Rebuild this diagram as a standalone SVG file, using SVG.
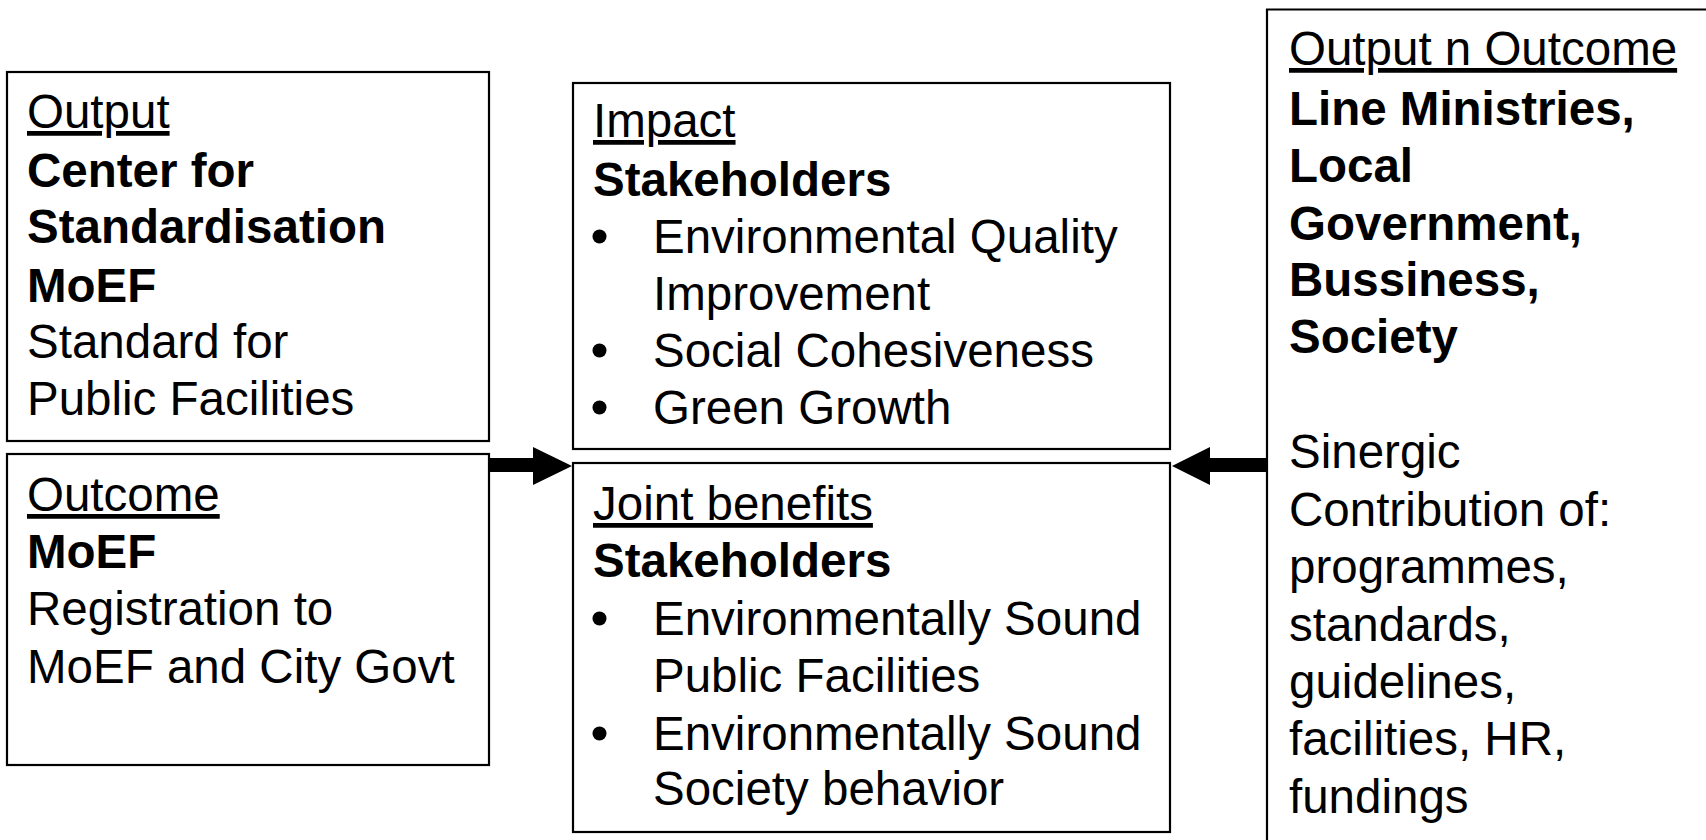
<svg xmlns="http://www.w3.org/2000/svg" width="1706" height="840" viewBox="0 0 1706 840">
<style>
.box{fill:#fff;stroke:#000;stroke-width:2.2}
text{font-family:"Liberation Sans",Arial,sans-serif;font-size:47.5px;fill:#000}
.b{font-weight:bold}
.u{text-decoration:underline}
.arrow{fill:#000;stroke:none}
.dot{fill:#000}
</style>
<rect x="0" y="0" width="1706" height="840" fill="#fff"/>
<g id="output">
<rect class="box" x="7" y="72" width="482" height="369"/>
<text x="27" y="128" class="u">Output</text>
<text x="27" y="187" class="b">Center for</text>
<text x="27" y="243" class="b">Standardisation</text>
<text x="27" y="302" class="b">MoEF</text>
<text x="27" y="358">Standard for</text>
<text x="27" y="415">Public Facilities</text>
</g>
<g id="outcome">
<rect class="box" x="7" y="454" width="482" height="311"/>
<text x="27" y="511" class="u">Outcome</text>
<text x="27" y="568" class="b">MoEF</text>
<text x="27" y="625">Registration to</text>
<text x="27" y="683">MoEF and City Govt</text>
</g>
<g id="impact">
<rect class="box" x="573" y="83" width="597" height="366"/>
<text x="593" y="137" class="u">Impact</text>
<text x="593" y="196" class="b">Stakeholders</text>
<circle class="dot" cx="599.5" cy="236.5" r="7"/>
<text x="653" y="253">Environmental Quality</text>
<text x="653" y="310">Improvement</text>
<circle class="dot" cx="599.5" cy="350.5" r="7"/>
<text x="653" y="367">Social Cohesiveness</text>
<circle class="dot" cx="599.5" cy="407.5" r="7"/>
<text x="653" y="424">Green Growth</text>
</g>
<g id="joint">
<rect class="box" x="573" y="463" width="597" height="369"/>
<text x="593" y="520" class="u">Joint benefits</text>
<text x="593" y="577" class="b">Stakeholders</text>
<circle class="dot" cx="599.5" cy="618.5" r="7"/>
<text x="653" y="635">Environmentally Sound</text>
<text x="653" y="692">Public Facilities</text>
<circle class="dot" cx="599.5" cy="733.5" r="7"/>
<text x="653" y="750">Environmentally Sound</text>
<text x="653" y="805">Society behavior</text>
</g>
<g id="actors">
<path d="M1710 9.5 H1267 V850" fill="#fff" stroke="#000" stroke-width="2.2"/>
<text x="1289" y="65" class="u">Output n Outcome</text>
<text x="1289" y="125" class="b">Line Ministries,</text>
<text x="1289" y="182" class="b">Local</text>
<text x="1289" y="240" class="b">Government,</text>
<text x="1289" y="296" class="b">Bussiness,</text>
<text x="1289" y="353" class="b">Society</text>
<text x="1289" y="468">Sinergic</text>
<text x="1289" y="526">Contribution of:</text>
<text x="1289" y="583">programmes,</text>
<text x="1289" y="641">standards,</text>
<text x="1289" y="698">guidelines,</text>
<text x="1289" y="755">facilities, HR,</text>
<text x="1289" y="813">fundings</text>
</g>
<g id="connectors">
<polygon class="arrow" points="490,458 533,458 533,447 572,466 533,485 533,472 490,472"/>
<polygon class="arrow" points="1266,458 1210,458 1210,447 1172,466 1210,485 1210,472 1266,472"/>
</g>
</svg>
